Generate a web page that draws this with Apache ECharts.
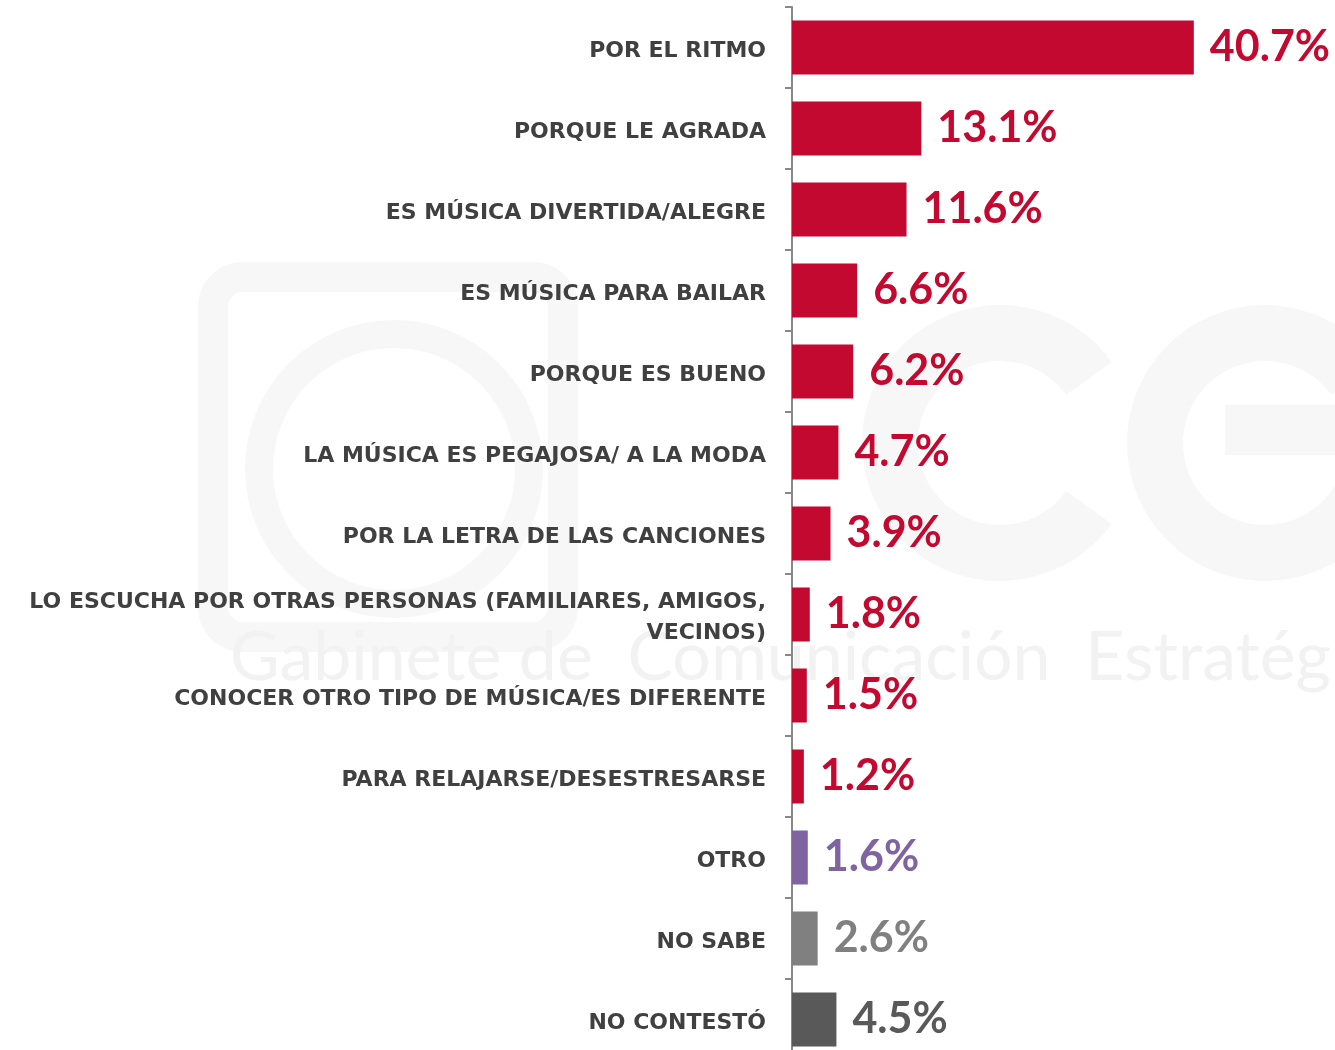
<!DOCTYPE html>
<html>
<head>
<meta charset="utf-8">
<script src="https://cdn.jsdelivr.net/npm/echarts@6/dist/echarts.min.js"></script>
<style>html,body{margin:0;padding:0;background:#fff;overflow:hidden}#c{width:1335px;height:1065px}</style>
</head>
<body>
<div id="c"></div>
<script>
const categories = [
  'POR EL RITMO',
  'PORQUE LE AGRADA',
  'ES MÚSICA DIVERTIDA/ALEGRE',
  'ES MÚSICA PARA BAILAR',
  'PORQUE ES BUENO',
  'LA MÚSICA ES PEGAJOSA/ A LA MODA',
  'POR LA LETRA DE LAS CANCIONES',
  'LO ESCUCHA POR OTRAS PERSONAS (FAMILIARES, AMIGOS,\nVECINOS)',
  'CONOCER OTRO TIPO DE MÚSICA/ES DIFERENTE',
  'PARA RELAJARSE/DESESTRESARSE',
  'OTRO',
  'NO SABE',
  'NO CONTESTÓ'
];
const values = [40.7, 13.1, 11.6, 6.6, 6.2, 4.7, 3.9, 1.8, 1.5, 1.2, 1.6, 2.6, 4.5];
const barColors = ['#C3092F','#C3092F','#C3092F','#C3092F','#C3092F','#C3092F','#C3092F','#C3092F','#C3092F','#C3092F','#8064A2','#808080','#595959'];

const wm = '#f7f7f7';
const chart = echarts.init(document.getElementById('c'), null, {renderer: 'canvas'});
chart.setOption({
  backgroundColor: '#fff',
  animation: false,
  graphic: [
    {type: 'rect', left: 198, top: 262, silent: true, z: 0,
     shape: {width: 350, height: 360, r: 30}, style: {fill: 'none', stroke: wm, lineWidth: 30}},
    {type: 'circle', left: 245, top: 320, silent: true, z: 0,
     shape: {r: 135}, style: {fill: 'none', stroke: wm, lineWidth: 28}},
    {type: 'arc', x: 1000, y: 443, silent: true, z: 0,
     shape: {r: 110, startAngle: Math.PI * 0.2, endAngle: Math.PI * 1.8, clockwise: true},
     style: {fill: 'none', stroke: wm, lineWidth: 56}},
    {type: 'arc', x: 1265, y: 443, silent: true, z: 0,
     shape: {r: 110, startAngle: Math.PI * 0.05, endAngle: Math.PI * 1.8, clockwise: true},
     style: {fill: 'none', stroke: wm, lineWidth: 56}},
    {type: 'rect', left: 1225, top: 405, silent: true, z: 0,
     shape: {width: 130, height: 50}, style: {fill: wm}},
    {type: 'text', left: 230, top: 624, silent: true, z: 0,
     style: {text: 'Gabinete de  Comunicación  Estratégica', fill: '#f2f2f2', font: '68px "Lato", sans-serif'}}
  ],
  grid: {left: 792, top: 7, right: 0, bottom: 5, containLabel: false},
  xAxis: {
    type: 'value', min: 0, max: 55, show: false
  },
  yAxis: {
    type: 'category', data: categories, inverse: true,
    axisLine: {show: true, lineStyle: {color: '#888888', width: 2}},
    axisTick: {show: true, length: 7, lineStyle: {color: '#888888', width: 2}},
    axisLabel: {
      margin: 26, color: '#404040', fontFamily: 'DejaVu Sans', fontWeight: 'bold',
      fontSize: 22, lineHeight: 31, align: 'right', verticalAlign: 'middle',
      formatter: v => v.split('\n').map(s => '{t|' + s + '}').join('\n'),
      rich: {t: {fontFamily: 'DejaVu Sans', fontWeight: 'bold', fontSize: 22, color: '#404040',
                 lineHeight: 31, padding: [7, 0, 0, 0]}}
    },
    splitLine: {show: false}
  },
  series: [{
    type: 'bar', data: values.map((v, i) => ({value: v, itemStyle: {color: barColors[i]}, label: {color: barColors[i]}})),
    barWidth: 54,
    label: {
      show: true, position: 'right', distance: 16,
      formatter: p => p.value.toFixed(1) + '%',
      fontFamily: 'Lato', fontWeight: 'bold', fontSize: 43
    },
    z: 2
  }]
});
</script>
</body>
</html>
